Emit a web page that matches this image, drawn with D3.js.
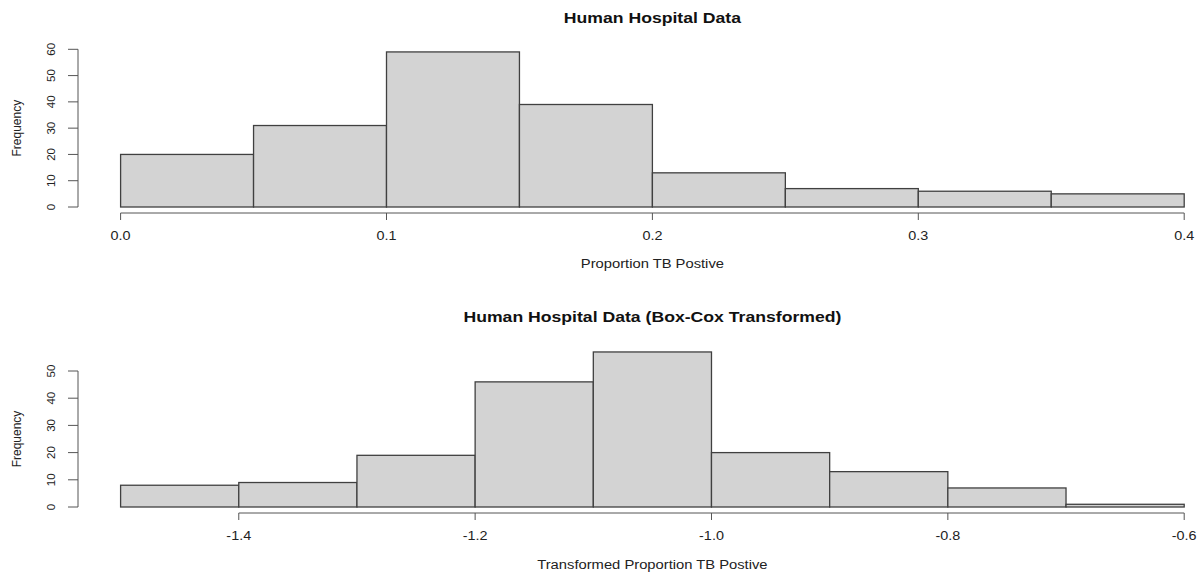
<!DOCTYPE html>
<html>
<head>
<meta charset="utf-8">
<script src="https://cdn.jsdelivr.net/npm/d3@7"></script>
<style>
	body { margin: 0; background: #fff; }
	svg { display: block; font-family: "Liberation Sans", Arial, sans-serif; }
	.bar { fill: #d3d3d3; stroke: #404040; stroke-width: 1.3; }
	.axis line, .axis path { stroke: #555; stroke-width: 1; fill: none; }
	.axis text { fill: #222; font-size: 12px; }
	.title { font-weight: bold; font-size: 14px; fill: #111; }
	.label { font-size: 12px; fill: #222; }
</style>
</head>
<body>
<svg width="1203" height="574"></svg>
<script>
// top histogram: raw proportions
var rawEdges = [0, 0.05, 0.1, 0.15, 0.2, 0.25, 0.3, 0.35, 0.4];
var rawCounts = [20, 31, 59, 39, 13, 7, 6, 5];
var rawXTicks = [0.0, 0.1, 0.2, 0.3, 0.4];
var rawYTicks = [0, 10, 20, 30, 40, 50, 60];

// bottom histogram: Box-Cox transformed
var bcEdges = [-1.5, -1.4, -1.3, -1.2, -1.1, -1.0, -0.9, -0.8, -0.7, -0.6];
var bcCounts = [8, 9, 19, 46, 57, 20, 13, 7, 1];
var bcXTicks = [-1.4, -1.2, -1.0, -0.8, -0.6];
var bcYTicks = [0, 10, 20, 30, 40, 50];

var svg = d3.select('svg');
var X0 = 120.6, X1 = 1184.2, AXIS_X = 78;
var STRETCH = 1.2;

function drawHist(opts) {
	var x = d3.scaleLinear().domain(opts.xDomain).range([X0, X1]);
	var y = d3.scaleLinear().domain(opts.yDomain).range([opts.base, opts.top]);
	var g = svg.append('g');

	var bins = opts.counts.map(function (c, i) {
		return { x0: opts.edges[i], x1: opts.edges[i + 1], n: c };
	});

	g.selectAll('rect.bar')
		.data(bins)
		.enter()
		.append('rect')
		.attr('class', 'bar')
		.attr('x', function (d) { return x(d.x0); })
		.attr('width', function (d) { return x(d.x1) - x(d.x0); })
		.attr('y', function (d) { return y(d.n); })
		.attr('height', function (d) { return y(0) - y(d.n); });

	// x axis, drawn from first to last tick like R
	var xAxis = g.append('g')
		.attr('class', 'axis')
		.attr('transform', 'translate(0,' + (opts.base + 6) + ')');
	xAxis.append('path')
		.attr('d', 'M' + x(opts.xTicks[0]) + ',0H' + x(opts.xTicks[opts.xTicks.length - 1]));
	var xt = xAxis.selectAll('g.tick')
		.data(opts.xTicks)
		.enter()
		.append('g')
		.attr('class', 'tick')
		.attr('transform', function (d) { return 'translate(' + x(d) + ',0)'; });
	xt.append('line').attr('y1', 0).attr('y2', 7);
	xt.append('text')
		.attr('text-anchor', 'middle')
		.attr('transform', 'translate(0,27) scale(' + STRETCH + ',1)')
		.text(function (d) { return d3.format('.1f')(d).replace('\u2212', '-'); });

	// y axis
	var yAxis = g.append('g')
		.attr('class', 'axis')
		.attr('transform', 'translate(' + AXIS_X + ',0)');
	yAxis.append('path')
		.attr('d', 'M0,' + y(opts.yTicks[0]) + 'V' + y(opts.yTicks[opts.yTicks.length - 1]));
	var yt = yAxis.selectAll('g.tick')
		.data(opts.yTicks)
		.enter()
		.append('g')
		.attr('class', 'tick')
		.attr('transform', function (d) { return 'translate(0,' + y(d) + ')'; });
	yt.append('line').attr('x1', 0).attr('x2', -10);
	yt.append('text')
		.attr('text-anchor', 'middle')
		.attr('transform', 'translate(-23,0) rotate(-90)')
		.style('font-size', '11.5px')
		.text(function (d) { return d; });

	// titles
	var cx = (X0 + X1) / 2;
	g.append('text')
		.attr('class', 'title')
		.attr('text-anchor', 'middle')
		.attr('transform', 'translate(' + cx + ',' + opts.titleY + ') scale(1.26,1)')
		.text(opts.title);
	g.append('text')
		.attr('class', 'label')
		.attr('text-anchor', 'middle')
		.attr('transform', 'translate(' + cx + ',' + opts.xLabelY + ') scale(1.23,1)')
		.text(opts.xLabel);
	g.append('text')
		.attr('class', 'label')
		.attr('text-anchor', 'middle')
		.attr('transform', 'translate(21,' + (opts.base + opts.top) / 2 + ') rotate(-90)')
		.text('Frequency');
}

drawHist({
	edges: rawEdges, counts: rawCounts, xTicks: rawXTicks, yTicks: rawYTicks,
	xDomain: [0, 0.4], yDomain: [0, 60],
	base: 207, top: 49.3,
	title: 'Human Hospital Data', titleY: 22.7,
	xLabel: 'Proportion TB Postive', xLabelY: 267.5
});

drawHist({
	edges: bcEdges, counts: bcCounts, xTicks: bcXTicks, yTicks: bcYTicks,
	xDomain: [-1.5, -0.6], yDomain: [0, 50],
	base: 507, top: 371,
	title: 'Human Hospital Data (Box-Cox Transformed)', titleY: 322,
	xLabel: 'Transformed Proportion TB Postive', xLabelY: 569
});
</script>
</body>
</html>
